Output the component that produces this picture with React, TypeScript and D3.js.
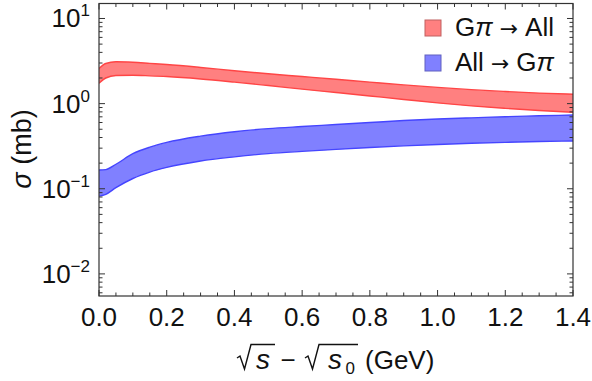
import React from 'react';
import * as d3 from 'd3';

// sqrt(s) - sqrt(s0) in GeV
const xVals = [0, 0.02, 0.05, 0.1, 0.15, 0.2, 0.3, 0.4, 0.5, 0.6, 0.7, 0.8, 0.9, 1.0, 1.1, 1.2, 1.3, 1.4];
// G pi -> All band (mb)
const redUpper = [2.58, 2.96, 3.1, 3.06, 2.97, 2.88, 2.66, 2.43, 2.24, 2.08, 1.93, 1.79, 1.66, 1.55, 1.46, 1.39, 1.33, 1.29];
const redLower = [1.73, 2.0, 2.14, 2.15, 2.12, 2.08, 1.95, 1.79, 1.63, 1.48, 1.35, 1.23, 1.12, 1.02, 0.94, 0.88, 0.83, 0.79];
// All -> G pi band (mb)
const blueUpper = [0.166, 0.168, 0.194, 0.258, 0.308, 0.35, 0.415, 0.468, 0.508, 0.538, 0.568, 0.6, 0.633, 0.659, 0.681, 0.702, 0.719, 0.735];
const blueLower = [0.082, 0.086, 0.103, 0.132, 0.157, 0.178, 0.212, 0.237, 0.259, 0.275, 0.29, 0.305, 0.319, 0.331, 0.342, 0.351, 0.359, 0.364];

const xTicks = [0, 0.2, 0.4, 0.6, 0.8, 1.0, 1.2, 1.4];
const yDecades = [-2, -1, 0, 1];

const W = 592, H = 381;
const m = { left: 99, right: 573, top: 3.5, bottom: 296 };
const font = '"Liberation Sans", Arial, sans-serif';
const arrowFont = '"DejaVu Sans", sans-serif';

const series = [
  { name: 'red', label: ['G', 'π', 'arrow', 'All'], up: redUpper, lo: redLower, fill: '#ff8080', edge: '#ff4545' },
  { name: 'blue', label: ['All', 'arrow', 'G', 'π'], up: blueUpper, lo: blueLower, fill: '#8080ff', edge: '#4545ff' },
];

function LegendLabel({ parts }: { parts: string[] }) {
  return (
    <>
      {parts.map((p, i) =>
        p === 'arrow'
          ? <tspan key={i} fontFamily={arrowFont} fontSize={22}>{' → '}</tspan>
          : p === 'π'
            ? <tspan key={i} fontStyle="italic">π</tspan>
            : <tspan key={i}>{p}</tspan>
      )}
    </>
  );
}

export default function App() {
  const x = d3.scaleLinear().domain([0, 1.4]).range([m.left, m.right]);
  const y = d3.scaleLog().domain([0.0055, 15]).range([m.bottom, m.top]);

  const area = (up: number[], lo: number[]) =>
    d3.area<number>().x(d => x(d)).y0((_, i) => y(lo[i])).y1((_, i) => y(up[i])).curve(d3.curveMonotoneX)(xVals) || '';
  const line = (vals: number[]) =>
    d3.line<number>().x(d => x(d)).y((_, i) => y(vals[i])).curve(d3.curveMonotoneX)(xVals) || '';

  const xMinor = d3.range(0, 1.4001, 0.05).filter(v => Math.abs(v * 5 - Math.round(v * 5)) > 1e-6);
  const yMinor: number[] = [];
  [-3, ...yDecades].forEach(k => d3.range(2, 10).forEach(j => {
    const v = j * Math.pow(10, k);
    if (v >= 0.0055 && v <= 15) yMinor.push(v);
  }));

  const tc = '#333';
  const maj = 6, mnr = 3.5;
  const fs = 26;

  // radical signs for the x title
  const radical = (x0: number, barEnd: number) => `M${x0},358 L${x0 + 3},356 L${x0 + 7.5},369 L${x0 + 14},344.5 L${barEnd},344.5`;

  return (
    <svg width={W} height={H} style={{ position: 'absolute', left: 0, top: 0, background: '#fff' }} fontFamily={font}>
      <defs>
        <clipPath id="plot"><rect x={m.left} y={m.top} width={m.right - m.left} height={m.bottom - m.top} /></clipPath>
      </defs>

      <g clipPath="url(#plot)">
        {series.map(s => (
          <g key={s.name}>
            <path d={area(s.up, s.lo)} fill={s.fill} />
            <path d={line(s.up)} fill="none" stroke={s.edge} strokeWidth={1.4} />
            <path d={line(s.lo)} fill="none" stroke={s.edge} strokeWidth={1.4} />
          </g>
        ))}
      </g>

      {/* frame ticks, all four sides, pointing in */}
      <g stroke={tc} strokeWidth={1}>
        {xTicks.map(v => (
          <g key={'xt' + v}>
            <line x1={x(v)} x2={x(v)} y1={m.bottom} y2={m.bottom - maj} />
            <line x1={x(v)} x2={x(v)} y1={m.top} y2={m.top + maj} />
          </g>
        ))}
        {xMinor.map(v => (
          <g key={'xm' + v}>
            <line x1={x(v)} x2={x(v)} y1={m.bottom} y2={m.bottom - mnr} />
            <line x1={x(v)} x2={x(v)} y1={m.top} y2={m.top + mnr} />
          </g>
        ))}
        {yDecades.map(k => (
          <g key={'yt' + k}>
            <line x1={m.left} x2={m.left + maj} y1={y(Math.pow(10, k))} y2={y(Math.pow(10, k))} />
            <line x1={m.right} x2={m.right - maj} y1={y(Math.pow(10, k))} y2={y(Math.pow(10, k))} />
          </g>
        ))}
        {yMinor.map(v => (
          <g key={'ym' + v}>
            <line x1={m.left} x2={m.left + mnr} y1={y(v)} y2={y(v)} />
            <line x1={m.right} x2={m.right - mnr} y1={y(v)} y2={y(v)} />
          </g>
        ))}
      </g>
      <rect x={m.left} y={m.top} width={m.right - m.left} height={m.bottom - m.top} fill="none" stroke={tc} strokeWidth={1.2} />

      {/* tick labels */}
      <g fill="#111" fontSize={fs}>
        {xTicks.map(v => (
          <text key={'xl' + v} x={x(v)} y={326} textAnchor="middle">{v.toFixed(1)}</text>
        ))}
        {yDecades.map(k => (
          <text key={'yl' + k} x={90} y={y(Math.pow(10, k)) + 9} textAnchor="end">
            10<tspan fontSize={17} dy={-11}>{k < 0 ? '−' + Math.abs(k) : k}</tspan>
          </text>
        ))}
      </g>

      {/* axis titles */}
      <text transform="translate(31,149) rotate(-90)" textAnchor="middle" fontSize={27} fill="#111">
        <tspan fontStyle="italic">σ</tspan> (mb)
      </text>
      <g fill="#111" stroke="none">
        <path d={radical(237, 275)} fill="none" stroke="#111" strokeWidth={1.4} />
        <text x={256} y={369} fontSize={28} fontStyle="italic">s</text>
        <text x={288} y={369} fontSize={26} textAnchor="middle">−</text>
        <path d={radical(305, 358)} fill="none" stroke="#111" strokeWidth={1.4} />
        <text x={328} y={369} fontSize={28} fontStyle="italic">s</text>
        <text x={345.5} y={374} fontSize={17}>0</text>
        <text x={365} y={369} fontSize={26}>(GeV)</text>
      </g>

      {/* legend */}
      {series.map((s, i) => (
        <g key={'lg' + s.name} transform={`translate(425,${20 + i * 35})`}>
          <rect x={0} y={0} width={16} height={16} fill={s.fill} stroke={d3.color(s.fill)!.darker(0.8).toString()} strokeWidth={1} />
          <text x={30} y={15.5} fontSize={fs} fill="#111">
            <LegendLabel parts={s.label} />
          </text>
        </g>
      ))}
    </svg>
  );
}
